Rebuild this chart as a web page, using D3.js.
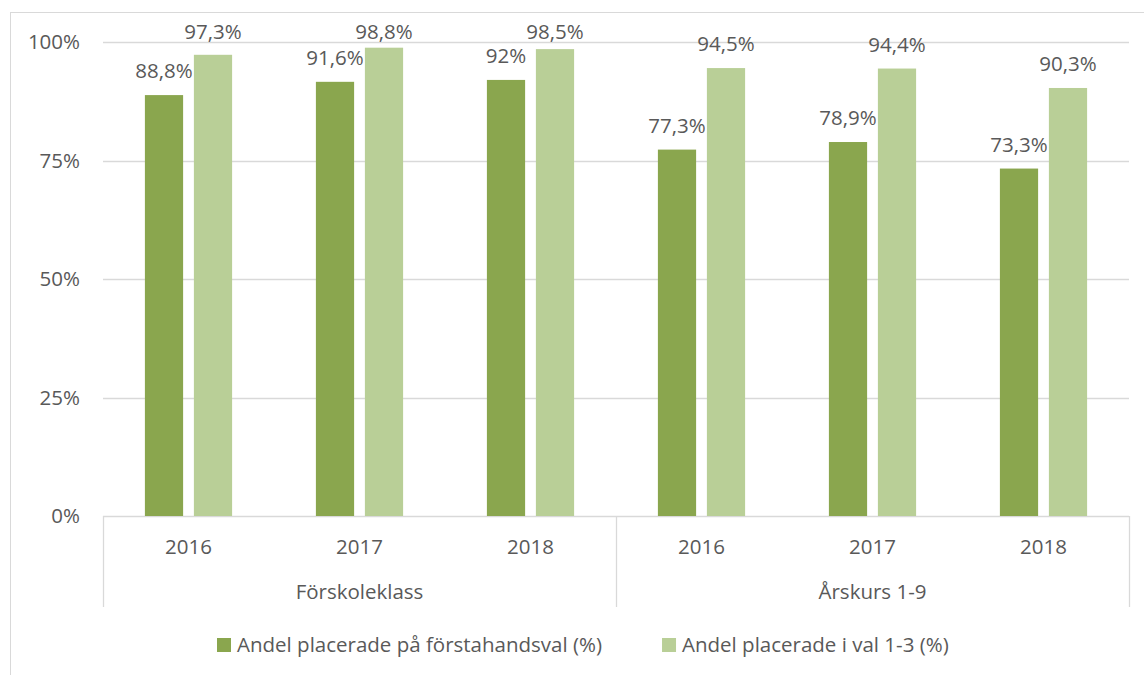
<!DOCTYPE html>
<html>
<head>
<meta charset="utf-8">
<script src="https://cdn.jsdelivr.net/npm/d3@7"></script>
<style>
  body { margin: 0; background: #fff; }
  svg text { font-family: "Open Sans", sans-serif; fill: #595959; font-size: 20.5px; }
</style>
</head>
<body>
<svg id="chart" width="1144" height="675"></svg>
<script>
// data
const groups = ['Förskoleklass', 'Årskurs 1-9'];
const years = ['2016', '2017', '2018'];
const seriesNames = ['Andel placerade på förstahandsval (%)', 'Andel placerade i val 1-3 (%)'];
const firstChoice = [88.8, 91.6, 92, 77.3, 78.9, 73.3];
const choice1to3 = [97.3, 98.8, 98.5, 94.5, 94.4, 90.3];
const yTicks = [0, 25, 50, 75, 100];

const colors = ['#8aa64e', '#b9cf97'];
const gridColor = '#d9d9d9';
const fmt = v => String(v).replace('.', ',') + '%';

const svg = d3.select('#chart');
const plot = {left: 103, right: 1129, top: 42, bottom: 516};

// outer chart frame
svg.append('rect')
    .attr('x', 10.5).attr('y', 12.5)
    .attr('width', 1200).attr('height', 700)
    .attr('fill', 'none')
    .attr('stroke', gridColor);

// categories: group|year
const cats = [];
groups.forEach(g => years.forEach(y => cats.push(g + '|' + y)));

const xScale = d3.scaleBand()
    .domain(cats)
    .range([plot.left, plot.right])
    .paddingInner(0.49)
    .paddingOuter(0.245);
const xInner = d3.scaleBand()
    .domain([0, 1])
    .range([0, xScale.bandwidth()])
    .paddingInner(0.22);
const yScale = d3.scaleLinear()
    .domain([0, 100])
    .range([plot.bottom, plot.top]);

// gridlines
svg.append('g')
    .selectAll('line')
    .data(yTicks)
    .join('line')
        .attr('x1', plot.left).attr('x2', plot.right)
        .attr('y1', d => Math.round(yScale(d)) + 0.5)
        .attr('y2', d => Math.round(yScale(d)) + 0.5)
        .attr('stroke', gridColor)
        .attr('stroke-width', 1.3);

// y axis labels
svg.append('g')
    .selectAll('text')
    .data(yTicks)
    .join('text')
        .attr('x', 80)
        .attr('y', d => yScale(d))
        .attr('dy', '0.35em')
        .attr('text-anchor', 'end')
        .text(d => d + '%');

// bars + data labels
const rows = cats.map((c, i) => ({cat: c, values: [firstChoice[i], choice1to3[i]]}));
const barG = svg.append('g');
rows.forEach(row => {
    row.values.forEach((v, s) => {
        const x = xScale(row.cat) + xInner(s);
        barG.append('rect')
            .attr('x', x)
            .attr('y', yScale(v))
            .attr('width', xInner.bandwidth())
            .attr('height', plot.bottom - yScale(v))
            .attr('fill', colors[s]);
        barG.append('text')
            .attr('x', x + xInner.bandwidth() / 2)
            .attr('y', Math.max(yScale(v) - 24, 32))
            .attr('dy', '0.35em')
            .attr('text-anchor', 'middle')
            .text(fmt(v));
    });
});

// category axis: year labels and group separators
const axisBottom = 607;
const sepX = [plot.left, (xScale(cats[2]) + xScale.step() - xScale.step() * xScale.paddingInner() / 2), plot.right];
svg.append('g')
    .selectAll('line')
    .data(sepX)
    .join('line')
        .attr('x1', d => Math.round(d) + 0.5).attr('x2', d => Math.round(d) + 0.5)
        .attr('y1', plot.bottom).attr('y2', axisBottom)
        .attr('stroke', gridColor)
        .attr('stroke-width', 1.3);

svg.append('g')
    .selectAll('text')
    .data(cats)
    .join('text')
        .attr('x', d => xScale(d) + xScale.bandwidth() / 2)
        .attr('y', 547)
        .attr('dy', '0.35em')
        .attr('text-anchor', 'middle')
        .text(d => d.split('|')[1]);

svg.append('g')
    .selectAll('text')
    .data(groups)
    .join('text')
        .attr('x', (d, i) => (sepX[i] + sepX[i + 1]) / 2)
        .attr('y', 592)
        .attr('dy', '0.35em')
        .attr('text-anchor', 'middle')
        .text(d => d);

// legend
const legend = svg.append('g');
let lx = 217;
seriesNames.forEach((name, i) => {
    legend.append('rect')
        .attr('x', lx).attr('y', 638)
        .attr('width', 14).attr('height', 14)
        .attr('fill', colors[i]);
    const t = legend.append('text')
        .attr('x', lx + 20)
        .attr('y', 645)
        .attr('dy', '0.35em')
        .text(name);
    lx += 20 + t.node().getComputedTextLength() + 60;
});
</script>
</body>
</html>
